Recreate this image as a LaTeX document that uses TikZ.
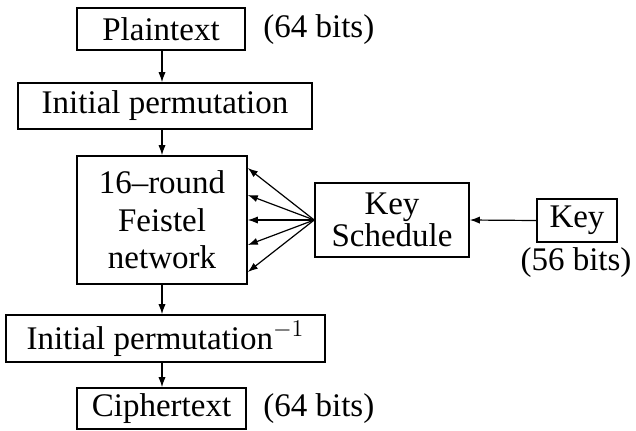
\documentclass[tikz,border=0pt]{standalone}
\usepackage{fontspec}
\setmainfont{Liberation Serif}
\usetikzlibrary{arrows.meta, positioning}

\tikzset{
  box/.style={draw, line width=0.8pt, inner sep=0pt, align=center,
    font=\fontsize{16.5}{18.7}\selectfont},
  note/.style={inner sep=0pt, font=\fontsize{16.5}{18.7}\selectfont},
  conn/.style={line width=0.6pt, -{Latex[length=5pt, width=3.6pt]}},
}

\begin{document}
\begin{tikzpicture}[x=0.5pt, y=-0.5pt]
\useasboundingbox (0,0) rectangle (636,430);

% Define nodes
\path (161,29)
node[box, minimum width=84pt, minimum height=21pt] (plain) {Plaintext}
(263,30) node[note, anchor=west] (plainbits) {(64 bits)}
(165,106) node[box, minimum width=147pt, minimum height=23pt] (ip) {Initial permutation}
(162,220) node[box, minimum width=85pt, minimum height=64pt] (feistel) {16–round\\Feistel\\network}
(165.5,338.5) node[box, minimum width=159.5pt, minimum height=23.5pt] (ipinv) {Initial permutation$^{-1}$}
(161.5,408.5) node[box, minimum width=84.5pt, minimum height=20.5pt] (cipher) {Ciphertext}
(263,409) node[note, anchor=west] (cipherbits) {(64 bits)}
(392,220) node[box, minimum width=77pt, minimum height=37pt,
  font=\fontsize{16.5}{16}\selectfont] (sched) {Key\\Schedule}
(577,220.5) node[box, minimum width=40pt, minimum height=21.5pt] (key) {Key}
(key.south) +(-1,4) node[note, anchor=north] (keybits) {(56 bits)}
;

% Data path
\draw[conn] (plain.south -| feistel) -- (ip.north -| feistel);
\draw[conn] (ip.south -| feistel) -- (feistel.north);
\draw[conn] (feistel.south) -- (ipinv.north -| feistel);
\draw[conn] (ipinv.south -| feistel) -- (cipher.north -| feistel);

% Key path
\draw[conn] (key.west) -- (sched.east);
\foreach \y in {168,195,220,245,272}
  \draw[conn] (sched.west) -- (feistel.east |- 0,\y);

\end{tikzpicture}
\end{document}
